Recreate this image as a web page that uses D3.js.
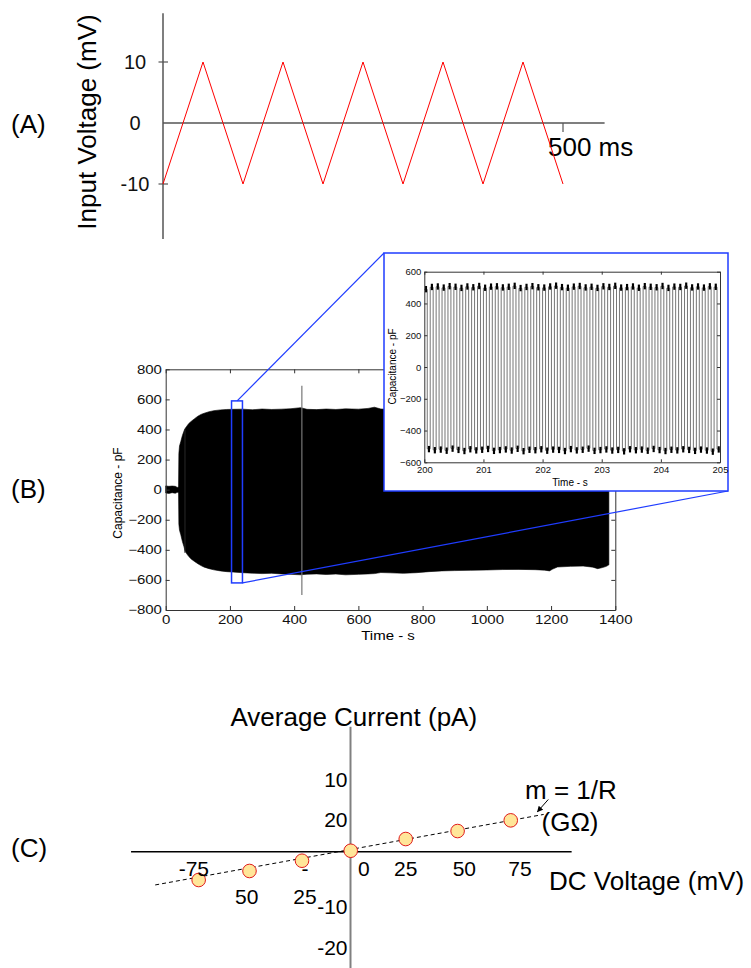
<!DOCTYPE html>
<html>
<head>
<meta charset="utf-8">
<script src="https://cdn.jsdelivr.net/npm/d3@7"></script>
<style>
  body { margin: 0; background: #fff; }
  svg { display: block; font-family: "Liberation Sans", Arial, sans-serif; }
</style>
</head>
<body>
<svg id="chart" width="751" height="968"></svg>
<script>
// ---------------- data ----------------

// (A) triangular command voltage, ms / mV
const rampTimes = [0, 50, 100, 150, 200, 250, 300, 350, 400, 450, 500];
const rampVolts = [-10, 10, -10, 10, -10, 10, -10, 10, -10, 10, -10];
const rampVoltTicks = [10, 0, -10];
const rampTimeExtent = [0, 552];
const rampVoltExtent = [-19, 18];
const scaleBarTime = 500;

// (B) capacitance recording envelope, s / pF
const envTime = [0, 10, 20, 30, 36, 40, 41, 43, 47, 52, 57, 60, 65, 72, 80, 90, 100, 110, 120, 135, 150, 170, 190,
  210, 240, 270, 300, 330, 360, 390, 420, 440, 470, 500, 530, 560, 600, 630, 650, 670, 700, 740, 780, 820, 860,
  900, 950, 1000, 1050, 1100, 1150, 1180, 1195, 1205, 1220, 1260, 1300, 1330, 1345, 1360, 1372, 1380];
const envHigh = [25, 22, 24, 22, 15, 18, 240, 290, 320, 360, 390, 405, 420, 440, 455, 472, 488, 500, 508, 518, 525, 530, 533,
  534, 535, 531, 536, 533, 535, 538, 545, 534, 532, 536, 533, 537, 535, 540, 548, 536, 534, 532, 533, 530, 531,
  530, 528, 530, 528, 527, 526, 527, 526, 524, 522, 523, 520, 521, 520, 519, 518, 520];
const envLow = [-22, -25, -20, -24, -18, -20, -230, -270, -300, -345, -380, -405, -425, -445, -462, -478, -492, -505, -515, -525, -533, -540, -545,
  -548, -552, -555, -558, -556, -560, -563, -566, -562, -560, -564, -561, -566, -563, -560, -558, -551, -553, -556, -552, -545, -540,
  -538, -536, -534, -531, -530, -532, -535, -540, -528, -514, -510, -508, -515, -525, -518, -510, -500];
const spikeTime = [60, 424];
const spikeHigh = [400, 690];
const spikeLow = [-420, -700];
const mainTimeTicks = [0, 200, 400, 600, 800, 1000, 1200, 1400];
const mainCapTicks = [-800, -600, -400, -200, 0, 200, 400, 600, 800];
const zoomWindowTime = [205, 239];
const zoomWindowCap = [-620, 590];

// (B) inset: 10 Hz square response between 200 s and 205 s
const insetStart = 200;
const insetPeriod = 0.1;
const highLevels = [488, 502, 505, 498, 507, 503, 496, 505, 500, 508, 497, 504, 506, 499, 503, 509, 495, 502, 507, 500,
  498, 505, 510, 501, 497, 504, 508, 499, 503, 496, 506, 502, 509, 498, 501, 505, 497, 507, 503, 500,
  508, 496, 504, 502, 510, 499, 505, 498, 506, 503];
const lowLevels = [-515, -522, -518, -525, -512, -520, -527, -516, -523, -519, -514, -526, -521, -517, -524, -513, -528, -519, -522, -516,
  -525, -518, -520, -527, -515, -523, -519, -512, -526, -521, -517, -524, -520, -529, -516, -522, -518, -525, -514, -521,
  -527, -519, -523, -516, -520, -526, -518, -524, -531, -517];
const insetTimeTicks = [200, 201, 202, 203, 204, 205];
const insetCapTicks = [-600, -400, -200, 0, 200, 400, 600];

// (C) I-V points, mV / pA
const dcVoltage = [-72.3, -48.1, -23.1, 0.1, 26.3, 51, 76.3];
const avgCurrent = [-5.96, -4.06, -1.9, 0.2, 2.67, 4.35, 6.6];
const fitVoltage = [-93, 92];
const fitCurrent = [-7.0, 7.85];
const voltLabels = ['-75', '50', '-', '25', '0', '25', '50', '75'];
const voltLabelAt = [-74.6, -49.4, -21.7, -21.7, 6.4, 26.3, 54.2, 80.7];
const voltLabelLine = [0, 1, 0, 1, 0, 0, 0, 0];
const currLabels = ['10', '20', '-10', '-20'];
const currLabelAt = [15.1, 6.8, -11.6, -20.1];
const voltAxisExtent = [-104.5, 105.3];
const currAxisExtent = [-24.5, 26.3];
const arrowFrom = [94.2, 11.0];
const arrowTo = [89, 8.4];

// ---------------- drawing ----------------
const svg = d3.select('#chart');
const FONT = '"Liberation Sans", Arial, sans-serif';

function label(g, text, x, y, size, anchor) {
  return g.append('text')
    .attr('x', x).attr('y', y)
    .attr('font-size', size)
    .attr('text-anchor', anchor || 'start')
    .attr('fill', '#000')
    .text(text);
}

// ===== (A) =====
const gA = svg.append('g');
const xA = d3.scaleLinear().domain([0, 500]).range([163, 563]);
const yA = d3.scaleLinear().domain([-10, 10]).range([184, 62]);

gA.append('line')
  .attr('x1', xA(rampTimeExtent[0])).attr('x2', xA(rampTimeExtent[1]))
  .attr('y1', yA(0)).attr('y2', yA(0))
  .attr('stroke', '#555').attr('stroke-width', 1.5);
gA.append('line')
  .attr('x1', xA(0)).attr('x2', xA(0))
  .attr('y1', yA(rampVoltExtent[1])).attr('y2', yA(rampVoltExtent[0]))
  .attr('stroke', '#555').attr('stroke-width', 1.5);

rampVoltTicks.forEach(v => {
  if (v !== 0) {
    gA.append('line')
      .attr('x1', xA(0) - 4.5).attr('x2', xA(0) + 5)
      .attr('y1', yA(v)).attr('y2', yA(v))
      .attr('stroke', '#555').attr('stroke-width', 1.2);
  }
  label(gA, v, 135, yA(v) + 7, 20, 'middle').attr('fill', '#111');
});

// scale bar tick
gA.append('line')
  .attr('x1', xA(scaleBarTime)).attr('x2', xA(scaleBarTime))
  .attr('y1', yA(0)).attr('y2', yA(0) + 9)
  .attr('stroke', '#555').attr('stroke-width', 1.2);
label(gA, scaleBarTime + ' ms', xA(scaleBarTime) - 15, 156, 26);

const rampLine = d3.line().x((d, i) => xA(rampTimes[i])).y(d => yA(d));
gA.append('path')
  .datum(rampVolts)
  .attr('d', rampLine)
  .attr('fill', 'none')
  .attr('stroke', '#ff0000')
  .attr('stroke-width', 1);

gA.append('text')
  .attr('transform', 'translate(96,122) rotate(-90)')
  .attr('text-anchor', 'middle')
  .attr('font-size', 26)
  .text('Input Voltage (mV)');
label(gA, '(A)', 11, 133, 26);

// ===== (B) main plot =====
const gB = svg.append('g');
const xB = d3.scaleLinear().domain([0, 1400]).range([165.7, 615.3]);
const yB = d3.scaleLinear().domain([-800, 800]).range([610, 369.3]);

const envArea = d3.area()
  .x((d, i) => xB(envTime[i]))
  .y0((d, i) => yB(envLow[i]))
  .y1(d => yB(d));
gB.append('path')
  .datum(envHigh)
  .attr('d', envArea)
  .attr('fill', '#000')
  .attr('stroke', '#000')
  .attr('stroke-width', 0.6);

spikeTime.forEach((t, i) => {
  gB.append('line')
    .attr('x1', xB(t)).attr('x2', xB(t))
    .attr('y1', yB(spikeHigh[i])).attr('y2', yB(spikeLow[i]))
    .attr('stroke', i === 0 ? '#222' : '#777')
    .attr('stroke-width', 1.2);
});

function styleAxis(g, size, sx) {
  g.attr('font-family', FONT).attr('font-size', size);
  g.selectAll('.domain').attr('stroke', '#333');
  g.selectAll('.tick line').attr('stroke', '#333');
  g.selectAll('.tick text').attr('fill', '#111')
    .attr('transform', sx ? `scale(${sx},1)` : null);
}

function framedAxes(g, x, y, xTicks, yTicks, tick, size, sx, padB, padL) {
  const [x0, x1] = x.range();
  const [y0, y1] = y.range();
  const fmt = d3.format('d');
  g.append('g').attr('transform', `translate(0,${y0})`)
    .call(d3.axisBottom(x).tickValues(xTicks).tickFormat(fmt).tickSizeInner(-tick).tickSizeOuter(0).tickPadding(padB))
    .call(a => styleAxis(a, size, sx));
  g.append('g').attr('transform', `translate(0,${y1})`)
    .call(d3.axisTop(x).tickValues(xTicks).tickSizeInner(-tick).tickSizeOuter(0).tickFormat(''))
    .call(a => styleAxis(a, size, sx));
  g.append('g').attr('transform', `translate(${x0},0)`)
    .call(d3.axisLeft(y).tickValues(yTicks).tickFormat(fmt).tickSizeInner(-tick).tickSizeOuter(0).tickPadding(padL))
    .call(a => styleAxis(a, size, sx));
  g.append('g').attr('transform', `translate(${x1},0)`)
    .call(d3.axisRight(y).tickValues(yTicks).tickSizeInner(-tick).tickSizeOuter(0).tickFormat(''))
    .call(a => styleAxis(a, size, sx));
}

framedAxes(gB, xB, yB, mainTimeTicks, mainCapTicks, 4, 12, 1.25, 5, 3);

gB.append('text')
  .attr('transform', 'translate(121.5,493) rotate(-90)')
  .attr('text-anchor', 'middle').attr('font-size', 12)
  .text('Capacitance - pF');
gB.append('text')
  .attr('transform', 'translate(388,640) scale(1.25,1)')
  .attr('text-anchor', 'middle').attr('font-size', 12)
  .text('Time - s');
label(gB, '(B)', 11, 498, 26);

// zoom window + connectors
const blue = '#1f3cff';
gB.append('rect')
  .attr('x', xB(zoomWindowTime[0])).attr('y', yB(zoomWindowCap[1]))
  .attr('width', xB(zoomWindowTime[1]) - xB(zoomWindowTime[0]))
  .attr('height', yB(zoomWindowCap[0]) - yB(zoomWindowCap[1]))
  .attr('fill', 'none').attr('stroke', blue).attr('stroke-width', 1.5);

const inset = { x0: 384, y0: 253, x1: 728, y1: 491 };
gB.append('line')
  .attr('x1', xB((zoomWindowTime[0] + zoomWindowTime[1]) / 2 + 0.5)).attr('y1', yB(zoomWindowCap[1]))
  .attr('x2', inset.x0).attr('y2', inset.y0)
  .attr('stroke', blue).attr('stroke-width', 1.2);
gB.append('line')
  .attr('x1', xB(zoomWindowTime[1])).attr('y1', yB(zoomWindowCap[0]))
  .attr('x2', inset.x1).attr('y2', inset.y1)
  .attr('stroke', blue).attr('stroke-width', 1.2);

// ===== (B) inset =====
const gI = svg.append('g');
gI.append('rect')
  .attr('x', inset.x0).attr('y', inset.y0)
  .attr('width', inset.x1 - inset.x0).attr('height', inset.y1 - inset.y0)
  .attr('fill', '#fff').attr('stroke', blue).attr('stroke-width', 1.5);

const xI = d3.scaleLinear().domain([200, 205]).range([424.3, 720]);
const yI = d3.scaleLinear().domain([-600, 600]).range([462.3, 271.7]);

const wave = [];
highLevels.forEach((hi, i) => {
  const t0 = insetStart + i * insetPeriod;
  const tm = t0 + insetPeriod / 2;
  const t1 = t0 + insetPeriod;
  wave.push([t0, hi], [tm, hi], [tm, lowLevels[i]], [t1, lowLevels[i]]);
});
gI.append('path')
  .datum(wave)
  .attr('d', d3.line().x(d => xI(d[0])).y(d => yI(d[1])))
  .attr('fill', 'none')
  .attr('stroke', '#666')
  .attr('stroke-width', 0.9);

// dark noisy plateaus
highLevels.forEach((hi, i) => {
  const t0 = insetStart + i * insetPeriod;
  const tm = t0 + insetPeriod / 2;
  const lo = lowLevels[i];
  gI.append('rect')
    .attr('x', xI(t0) + 0.6).attr('y', yI(hi + 22))
    .attr('width', xI(tm) - xI(t0) - 0.8).attr('height', yI(hi - 18) - yI(hi + 22))
    .attr('fill', '#000');
  gI.append('rect')
    .attr('x', xI(tm) + 0.6).attr('y', yI(lo + 18))
    .attr('width', xI(t0 + insetPeriod) - xI(tm) - 0.8).attr('height', yI(lo - 22) - yI(lo + 18))
    .attr('fill', '#000');
});

framedAxes(gI, xI, yI, insetTimeTicks, insetCapTicks, 3, 9.5, null, 4, 3);

gI.append('text')
  .attr('transform', 'translate(395.5,366.5) rotate(-90)')
  .attr('text-anchor', 'middle').attr('font-size', 10)
  .text('Capacitance - pF');
gI.append('text')
  .attr('x', 570).attr('y', 486)
  .attr('text-anchor', 'middle').attr('font-size', 10)
  .text('Time - s');

// ===== (C) =====
const gC = svg.append('g');
const xC = d3.scaleLinear().domain([-100, 100]).range([140.5, 560.5]);
const yC = d3.scaleLinear().domain([-25, 25]).range([970.45, 732.95]);

gC.append('line')
  .attr('x1', xC(voltAxisExtent[0])).attr('x2', xC(voltAxisExtent[1]))
  .attr('y1', yC(0)).attr('y2', yC(0))
  .attr('stroke', '#000').attr('stroke-width', 1.5);
gC.append('line')
  .attr('x1', xC(0)).attr('x2', xC(0))
  .attr('y1', yC(currAxisExtent[1])).attr('y2', yC(currAxisExtent[0]))
  .attr('stroke', '#808080').attr('stroke-width', 2);

gC.append('path')
  .datum(fitVoltage)
  .attr('d', d3.line().x(d => xC(d)).y((d, i) => yC(fitCurrent[i])))
  .attr('fill', 'none')
  .attr('stroke', '#000')
  .attr('stroke-width', 1)
  .attr('stroke-dasharray', '4,3');

gC.selectAll('circle.pt')
  .data(dcVoltage)
  .enter().append('circle')
  .attr('class', 'pt')
  .attr('cx', d => xC(d))
  .attr('cy', (d, i) => yC(avgCurrent[i]))
  .attr('r', 6.8)
  .attr('fill', '#ffe699')
  .attr('stroke', '#e01b1b')
  .attr('stroke-width', 1);

voltLabels.forEach((t, i) => {
  label(gC, t, xC(voltLabelAt[i]), yC(0) + 24 + voltLabelLine[i] * 28.5, 21, 'middle');
});
currLabels.forEach((t, i) => {
  label(gC, t, xC(0) - 3, yC(currLabelAt[i]) + 7.5, 21, 'end');
});

svg.append('defs').append('marker')
  .attr('id', 'arrow')
  .attr('viewBox', '0 0 10 10')
  .attr('refX', 9).attr('refY', 5)
  .attr('markerWidth', 6).attr('markerHeight', 6)
  .attr('markerUnits', 'userSpaceOnUse')
  .attr('orient', 'auto')
  .append('path').attr('d', 'M0,0 L10,5 L0,10 z').attr('fill', '#000');
gC.append('line')
  .attr('x1', xC(arrowFrom[0])).attr('y1', yC(arrowFrom[1]))
  .attr('x2', xC(arrowTo[0])).attr('y2', yC(arrowTo[1]))
  .attr('stroke', '#000').attr('stroke-width', 1)
  .attr('marker-end', 'url(#arrow)');

label(gC, 'Average Current (pA)', 353.8, 726, 26, 'middle');
label(gC, 'DC Voltage (mV)', 549, 889.5, 26);
label(gC, 'm = 1/R', 525, 798.5, 26);
label(gC, '(GΩ)', 541.5, 831, 26);
label(gC, '(C)', 11, 857, 26);
</script>
</body>
</html>
